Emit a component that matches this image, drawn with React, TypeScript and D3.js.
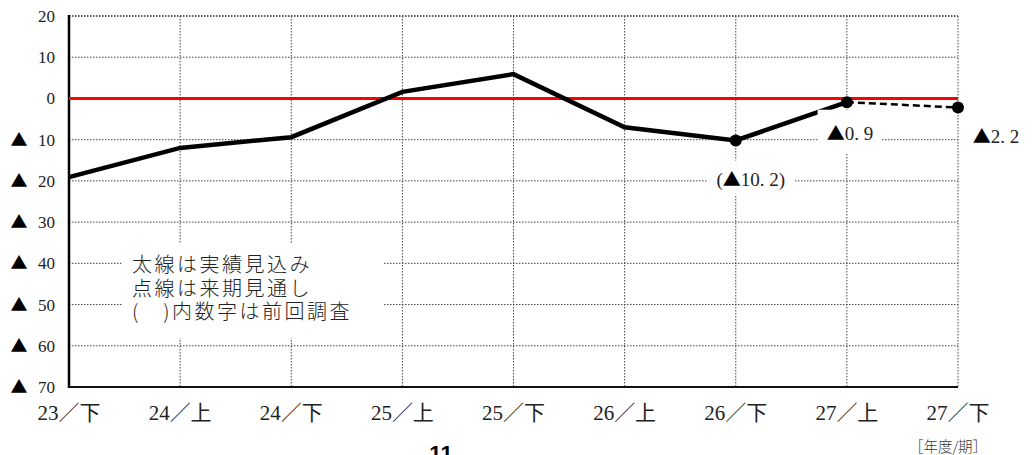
import React, { useEffect, useRef } from "react";
import * as d3 from "d3";

// Periods (fiscal year / half) and survey values
const periods = ["23／下", "24／上", "24／下", "25／上", "25／下", "26／上", "26／下", "27／上", "27／下"];
const actual = [-19.1, -12.0, -9.4, 1.6, 5.9, -7.0, -10.2, -0.9];
const forecast = [-0.9, -2.2];
const previous = -10.2;
const yTicks = [20, 10, 0, -10, -20, -30, -40, -50, -60, -70];
const legendLines = ["太線は実績見込み", "点線は来期見通し", "(\u3000)内数字は前回調査"];

const W = 1034;
const H = 455;
const SERIF = "Liberation Serif, DejaVu Serif, Noto Sans CJK JP, serif";
const CJK = "Noto Sans CJK JP, sans-serif";

const fmtTick = (v: number) => `${Math.abs(v)}`;
const fmtNum = (v: number) => Math.abs(v).toFixed(1).replace(".", ". ");

export default function App() {
  const ref = useRef<SVGSVGElement | null>(null);

  useEffect(() => {
    const svg = d3.select(ref.current);
    svg.selectAll("*").remove();

    const x = d3.scalePoint<string>().domain(periods).range([69, 958]);
    const y = d3.scaleLinear().domain([-70, 20]).range([387, 16]);
    const xl = x(periods[0])!;
    const xr = x(periods[periods.length - 1])!;

    const grid = svg.append("g");
    // horizontal dotted grid
    yTicks
      .filter((v) => v !== 0 && v !== -70)
      .forEach((v) => {
        grid
          .append("line")
          .attr("x1", xl)
          .attr("x2", xr)
          .attr("y1", y(v))
          .attr("y2", y(v))
          .attr("stroke", v === 20 ? "#222" : "#444")
          .attr("stroke-width", v === 20 ? 1.5 : 1)
          .attr("stroke-dasharray", "1.5,1.5");
      });
    // vertical dotted grid
    periods.slice(1).forEach((p) => {
      grid
        .append("line")
        .attr("x1", x(p)!)
        .attr("x2", x(p)!)
        .attr("y1", y(20))
        .attr("y2", y(-70))
        .attr("stroke", "#444")
        .attr("stroke-width", 1)
        .attr("stroke-dasharray", "1.5,1.5");
    });

    // axes
    svg
      .append("line")
      .attr("x1", xl)
      .attr("x2", xl)
      .attr("y1", y(20) - 1)
      .attr("y2", y(-70) + 1)
      .attr("stroke", "#000")
      .attr("stroke-width", 2.5);
    svg
      .append("line")
      .attr("x1", xl)
      .attr("x2", xr)
      .attr("y1", y(-70))
      .attr("y2", y(-70))
      .attr("stroke", "#111")
      .attr("stroke-width", 2);

    // zero line
    svg
      .append("line")
      .attr("x1", xl)
      .attr("x2", xr)
      .attr("y1", y(0))
      .attr("y2", y(0))
      .attr("stroke", "#ff0000")
      .attr("stroke-width", 3);

    // y tick labels
    yTicks.forEach((v) => {
      svg
        .append("text")
        .attr("x", 55)
        .attr("y", y(v))
        .attr("dy", "0.35em")
        .attr("text-anchor", "end")
        .style("font-family", SERIF)
        .style("font-size", "17px")
        .attr("fill", "#222")
        .text(fmtTick(v));
      if (v < 0) {
        svg
          .append("text")
          .attr("x", 19)
          .attr("y", y(v))
          .attr("dy", "0.35em")
          .attr("text-anchor", "middle")
          .style("font-family", CJK)
          .style("font-size", "17px")
          .attr("fill", "#000")
          .text("▲");
      }
    });

    // x tick labels
    periods.forEach((p) => {
      svg
        .append("text")
        .attr("x", x(p)!)
        .attr("y", 413)
        .attr("dy", "0.35em")
        .attr("text-anchor", "middle")
        .style("font-family", SERIF)
        .style("font-size", "21px")
        .attr("fill", "#222")
        .text(p);
    });

    // actual (thick) and forecast (dashed) lines
    const line = d3
      .line<number>()
      .x((_, i) => x(periods[i])!)
      .y((d) => y(d));
    svg
      .append("path")
      .attr("d", line(actual)!)
      .attr("fill", "none")
      .attr("stroke", "#000")
      .attr("stroke-width", 4.5)
      .attr("stroke-linejoin", "miter");

    const fLine = d3
      .line<number>()
      .x((_, i) => x(periods[actual.length - 1 + i])!)
      .y((d) => y(d));
    svg
      .append("path")
      .attr("d", fLine(forecast)!)
      .attr("fill", "none")
      .attr("stroke", "#000")
      .attr("stroke-width", 2.5)
      .attr("stroke-dasharray", "7,4");

    const markers: [string, number][] = [
      [periods[6], actual[6]],
      [periods[7], actual[7]],
      [periods[8], forecast[1]],
    ];
    markers.forEach(([p, v]) => {
      svg.append("circle").attr("cx", x(p)!).attr("cy", y(v)).attr("r", 6).attr("fill", "#000");
    });

    // value label: ▲ + number, optionally in parentheses, on a white backing box
    const valueLabel = (cx: number, cy: number, v: number, paren: boolean, padX: number, padY: number) => {
      const g = svg.append("g");
      const rect = g.append("rect").attr("fill", "#fff");
      const t = g
        .append("text")
        .attr("x", cx)
        .attr("y", cy)
        .attr("dy", "0.35em")
        .attr("text-anchor", "middle")
        .style("font-family", SERIF)
        .style("font-size", "19px")
        .attr("fill", "#222");
      if (paren) t.append("tspan").text("(");
      if (v < 0) t.append("tspan").style("font-family", CJK).style("font-size", "18px").attr("fill", "#000").text("▲");
      t.append("tspan").text(fmtNum(v));
      if (paren) t.append("tspan").text(")");
      const b = (t.node() as SVGTextElement).getBBox();
      rect
        .attr("x", b.x - padX)
        .attr("y", b.y - padY)
        .attr("width", b.width + padX * 2)
        .attr("height", b.height + padY * 2);
    };

    valueLabel(x(periods[6])! + 15, y(-20) - 2, previous, true, 9, 4);
    valueLabel(x(periods[7])! + 3, y(-8.4), actual[7], false, 9, 9);
    valueLabel(x(periods[8])! + 38, y(-9.3), forecast[1], false, 6, 4);

    // legend block
    const lg = svg.append("g");
    const lrect = lg.append("rect").attr("fill", "#fff");
    const lt = lg
      .append("text")
      .style("font-family", CJK)
      .style("font-size", "20px")
      .style("letter-spacing", "2.5px")
      .attr("font-weight", 300)
      .attr("fill", "#222");
    legendLines.forEach((s, i) => {
      lt.append("tspan").attr("x", 132).attr("y", 265 + i * 23.5).attr("dy", "0.35em").text(s);
    });
    const lb = (lt.node() as SVGTextElement).getBBox();
    lrect
      .attr("x", lb.x - 9)
      .attr("y", 243)
      .attr("width", 383 - (lb.x - 9))
      .attr("height", 95);

    // unit note and page number
    svg
      .append("text")
      .attr("x", 948)
      .attr("y", 447)
      .attr("dy", "0.35em")
      .attr("text-anchor", "middle")
      .style("font-family", CJK)
      .style("font-size", "14.5px")
      .attr("font-weight", 300)
      .attr("fill", "#333")
      .text("［年度/期］");
    svg
      .append("text")
      .attr("x", 441)
      .attr("y", 461)
      .attr("text-anchor", "middle")
      .style("font-family", "Liberation Sans, Arial, sans-serif")
      .attr("font-weight", "bold")
      .style("font-size", "22px")
      .attr("fill", "#000")
      .text("11");
  }, []);

  return (
    <svg
      ref={ref}
      width={W}
      height={H}
      style={{ position: "absolute", left: 0, top: 0, background: "#fff" }}
    />
  );
}
